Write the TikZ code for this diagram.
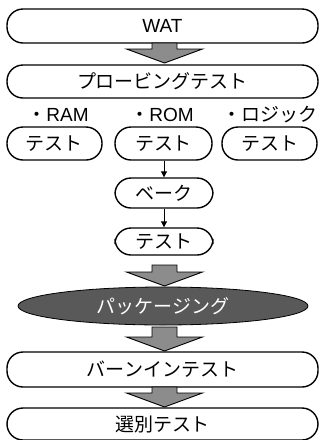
\documentclass[tikz,border=0pt]{standalone}
\usepackage{fontspec}
\setmainfont{Noto Sans CJK JP}
\newfontfamily\lat{Liberation Sans}
\usetikzlibrary{shapes.geometric,arrows.meta,calc}
\tikzset{
  txt/.style={font=\fontsize{19}{21}\selectfont},
  box/.style={txt, draw=black, line width=1.4pt, rounded corners=16pt, minimum height=32pt, inner sep=0pt},
  lbl/.style={txt, inner sep=0pt},
  pkg/.style={txt, ellipse, draw=black, line width=0.8pt, fill=black!65, text=white, minimum width=290pt, minimum height=38pt, inner sep=0pt},
  conn/.style={line width=1pt, -{Triangle[length=6pt,width=6pt]}},
  bigarr/.style={draw=black, line width=0.9pt, fill=black!45, line join=miter}
}
\newcommand{\bigarrow}[3]{% x, ytop, ytip
  \draw[bigarr] (#1-12.5,#2) -- (#1+12.5,#2) -- (#1+12.5,#3-14) -- (#1+38,#3-14) -- (#1,#3) -- (#1-38,#3-14) -- (#1-12.5,#3-14) -- cycle;
}
\begin{document}
\begin{tikzpicture}[x=1pt,y=-1pt]
\useasboundingbox (0,0) rectangle (325,440);
\node[box, minimum width=311pt, minimum height=34pt] (wat) at (162.5,26) {\lat WAT};
\node[box, minimum width=311pt, minimum height=33pt] (probe) at (162.5,81.5) {プロービングテスト};
\node[lbl] (ram) at (58,115) {・{\lat RAM}};
\node[lbl] (rom) at (162,115) {・{\lat ROM}};
\node[lbl] (logic) at (270,115) {・ロジック};
\node[box, minimum width=95pt, minimum height=33pt] (t1) at (54.5,143.5) {テスト};
\node[box, minimum width=97pt, minimum height=33pt] (t2) at (163.5,143.5) {テスト};
\node[box, minimum width=95pt, minimum height=33pt] (t3) at (269.5,143.5) {テスト};
\node[box, minimum width=98pt, minimum height=30pt] (bake) at (164,193) {ベーク};
\node[box, minimum width=98pt, minimum height=27pt] (test) at (164,241.5) {テスト};
\node[pkg] (pkg) at (163,306) {パッケージング};
\node[box, minimum width=311pt, minimum height=35pt] (burn) at (162.5,369.5) {バーンインテスト};
\node[box, minimum width=311pt, minimum height=32pt] (sel) at (162.5,424) {選別テスト};
\draw[conn] (t2.south -| 164,0) -- (bake.north -| 164,0);
\draw[conn] (bake) -- (test);
\bigarrow{164.5}{43}{63}
\bigarrow{164.5}{265}{286}
\bigarrow{164.5}{327}{351}
\bigarrow{164.5}{387}{407}
\end{tikzpicture}
\end{document}
